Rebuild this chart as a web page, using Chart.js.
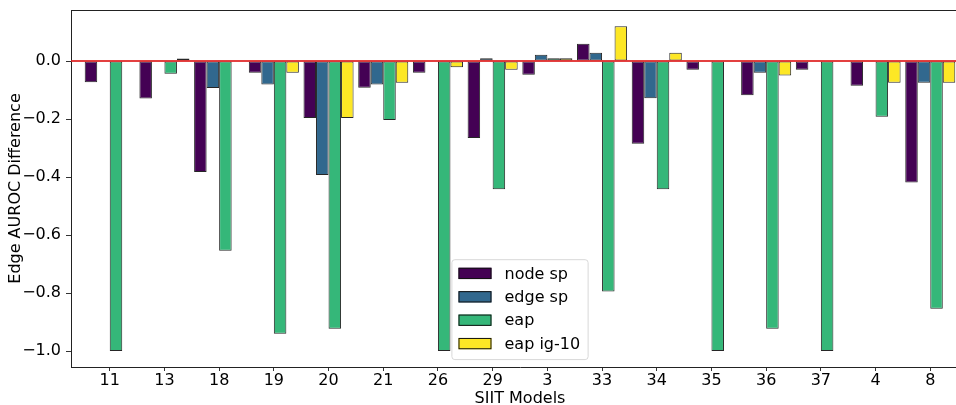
<!DOCTYPE html>
<html>
<head>
<meta charset="utf-8">
<title>Edge AUROC Difference by SIIT Model</title>
<script src="https://cdn.jsdelivr.net/npm/chart.js@4.4.1/dist/chart.umd.min.js"></script>
<style>
  html, body { margin: 0; padding: 0; background: #fff; overflow: hidden; }
  #wrap { width: 975px; height: 405px; }
</style>
</head>
<body>
<div id="wrap"><canvas id="c" width="975" height="405"></canvas></div>
<script>
// SIIT model ids along the x axis
const categories = ['11', '13', '18', '19', '20', '21', '26', '29', '3', '33', '34', '35', '36', '37', '4', '8'];

// Edge AUROC difference per method (null = no bar)
const nodeSp  = [-0.073, -0.129, -0.383, -0.040, -0.196, -0.092, -0.040, -0.265, -0.047,  0.060, -0.285, -0.030, -0.118, -0.030, -0.085, -0.419];
const edgeSp  = [null,   null,   -0.093, -0.081, -0.393, -0.081, null,    0.010,  0.022,  0.029, -0.128, null,   -0.040, null,   null,   -0.075];
const eap     = [-1.000, -0.044, -0.654, -0.940, -0.923, -0.203, -1.000, -0.442,  0.010, -0.795, -0.442, -1.000, -0.923, -1.000, -0.192, -0.854];
const eapIg10 = [null,    0.009, null,   -0.040, -0.196, -0.075, -0.021, -0.030,  0.010,  0.120,  0.029, null,   -0.050, null,   -0.075, -0.075];

const seriesNames  = ['node sp', 'edge sp', 'eap', 'eap ig-10'];
const seriesValues = [nodeSp, edgeSp, eap, eapIg10];
const seriesColors = ['#440154', '#31688e', '#35b779', '#fde725'];

// y axis tick values
const yTicks = [-1.0, -0.8, -0.6, -0.4, -0.2, 0.0];

const FONT = "'DejaVu Sans', 'Liberation Sans', sans-serif";
Chart.defaults.font.family = FONT;
Chart.defaults.font.size = 16;
Chart.defaults.color = '#000';

const xPad = 0.708;

// top/right frame of the axes box
const framePlugin = {
  id: 'frame',
  afterDraw(chart) {
    const {ctx, chartArea: a} = chart;
    ctx.save();
    ctx.strokeStyle = '#222';
    ctx.lineWidth = 1;
    ctx.beginPath();
    ctx.moveTo(a.left, a.top + 0.5);
    ctx.lineTo(a.right, a.top + 0.5);
    ctx.moveTo(a.right - 0.5, a.top);
    ctx.lineTo(a.right - 0.5, a.bottom);
    ctx.stroke();
    ctx.restore();
  }
};

// red reference line at zero
const zeroLinePlugin = {
  id: 'zeroLine',
  afterDatasetsDraw(chart) {
    const {ctx, chartArea: a, scales} = chart;
    const y = scales.y.getPixelForValue(0);
    ctx.save();
    ctx.strokeStyle = 'rgba(222, 30, 30, 0.85)';
    ctx.lineWidth = 2;
    ctx.beginPath();
    ctx.moveTo(a.left, y);
    ctx.lineTo(a.right, y);
    ctx.stroke();
    ctx.restore();
  }
};

// legend box at the lower centre of the plot
const boxLegendPlugin = {
  id: 'boxLegend',
  afterDraw(chart) {
    const {ctx, chartArea: a} = chart;
    const ds = chart.data.datasets;
    ctx.save();
    ctx.font = '16px ' + FONT;
    let maxW = 0;
    ds.forEach(d => { maxW = Math.max(maxW, ctx.measureText(d.label).width); });
    const patchW = 33, patchH = 11.3, padL = 6.6, textGap = 13, padR = 8;
    const rowH = 23.4, topPad = 13.7, botPad = 16;
    const w = padL + patchW + textGap + maxW + padR;
    const h = topPad + rowH * (ds.length - 1) + botPad;
    const x0 = (a.left + a.right) / 2 - w / 2;
    const y0 = a.bottom - 7.4 - h;
    // frame
    const r = 3;
    ctx.beginPath();
    ctx.moveTo(x0 + r, y0);
    ctx.arcTo(x0 + w, y0, x0 + w, y0 + h, r);
    ctx.arcTo(x0 + w, y0 + h, x0, y0 + h, r);
    ctx.arcTo(x0, y0 + h, x0, y0, r);
    ctx.arcTo(x0, y0, x0 + w, y0, r);
    ctx.closePath();
    ctx.fillStyle = 'rgba(255,255,255,0.8)';
    ctx.fill();
    ctx.strokeStyle = '#d8d8d8';
    ctx.lineWidth = 1;
    ctx.stroke();
    // entries
    ds.forEach((d, i) => {
      const cy = y0 + topPad + i * rowH;
      ctx.fillStyle = d.backgroundColor;
      ctx.fillRect(x0 + padL, cy - patchH / 2, patchW, patchH);
      ctx.strokeStyle = '#111';
      ctx.lineWidth = 1;
      ctx.strokeRect(x0 + padL + 0.5, cy - patchH / 2 + 0.5, patchW - 1, patchH - 1);
      ctx.fillStyle = '#000';
      ctx.textBaseline = 'middle';
      ctx.textAlign = 'left';
      ctx.fillText(d.label, x0 + padL + patchW + textGap, cy + 1);
    });
    ctx.restore();
  }
};

new Chart(document.getElementById('c'), {
  type: 'bar',
  data: {
    datasets: seriesNames.map((name, k) => ({
      label: name,
      data: seriesValues[k].map((v, i) => ({x: i, y: v})),
      backgroundColor: seriesColors[k],
      borderColor: 'rgba(0,0,0,0.85)',
      borderWidth: 1,
      borderSkipped: false,
      categoryPercentage: 0.915,
      barPercentage: 1.0
    }))
  },
  options: {
    responsive: false,
    devicePixelRatio: 1,
    animation: false,
    layout: { padding: { top: 10, left: 0, right: 6, bottom: 0 } },
    plugins: {
      legend: { display: false },
      tooltip: { enabled: false }
    },
    scales: {
      x: {
        type: 'linear',
        offset: false,
        min: -xPad,
        max: categories.length - 1 + xPad,
        afterBuildTicks(scale) {
          scale.ticks = categories.map((c, i) => ({value: i}));
        },
        afterFit(scale) {
          scale.height = 38;
          scale.paddingLeft = 0;
          scale.paddingRight = 0;
        },
        ticks: {
          autoSkip: false,
          maxRotation: 0,
          padding: 0,
          color: '#000',
          font: { size: 16 },
          callback: (v) => categories[Math.round(v)]
        },
        grid: { offset: false, drawOnChartArea: false, drawTicks: true, tickLength: 4, color: '#333' },
        border: { display: true, color: '#222', width: 1 },
        title: {
          display: true,
          text: 'SIIT Models',
          color: '#000',
          font: { size: 16, lineHeight: 0.8 },
          padding: { top: 0, bottom: 0 }
        }
      },
      y: {
        min: -1.055,
        max: 0.176,
        afterBuildTicks(scale) {
          scale.ticks = yTicks.map(v => ({value: v}));
        },
        afterFit(scale) {
          scale.width = 71;
          scale.paddingTop = 0;
          scale.paddingBottom = 0;
        },
        ticks: {
          padding: 5,
          color: '#000',
          font: { size: 16 },
          callback: (v) => v.toFixed(1).replace('-', '\u2212')
        },
        grid: { drawOnChartArea: false, drawTicks: true, tickLength: 5, color: '#333' },
        border: { display: true, color: '#222', width: 1 },
        title: {
          display: true,
          text: 'Edge AUROC Difference',
          color: '#000',
          font: { size: 16, lineHeight: 1.2 },
          padding: { top: 6, bottom: 0 }
        }
      }
    }
  },
  plugins: [framePlugin, zeroLinePlugin, boxLegendPlugin]
});
</script>
</body>
</html>
